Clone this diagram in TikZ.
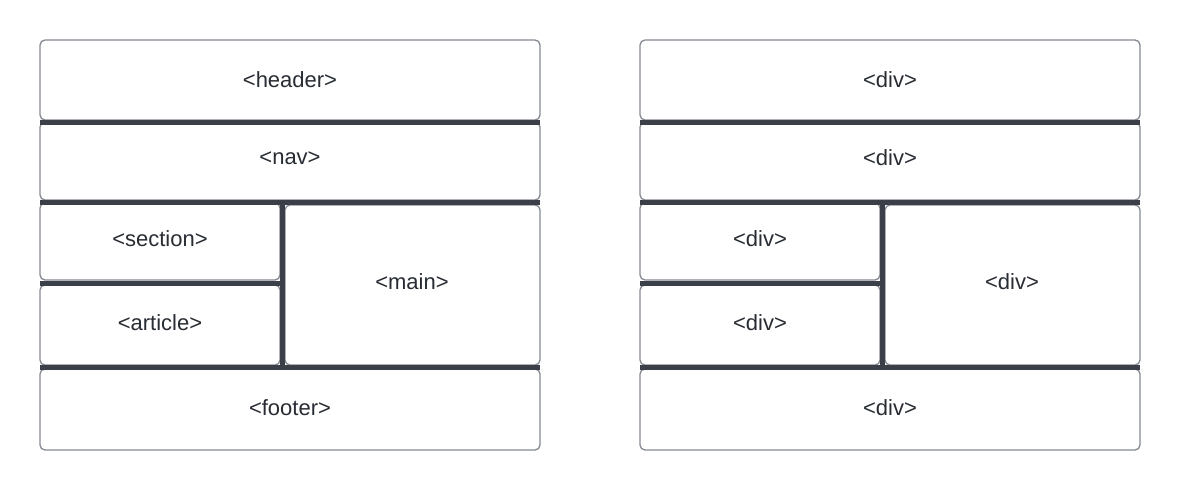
\documentclass[tikz,border=0pt]{standalone}
\usepackage{fontspec}
\setmainfont{Liberation Sans}
\begin{document}
\begin{tikzpicture}[x=1pt,y=-1pt,
  box/.style={draw=boxgray,line width=1.3pt,rounded corners=5pt,fill=white,inner sep=0pt,outer sep=0pt},
  sep/.style={draw=sepdark,line width=5pt},
  lbl/.style={text=txtdark,font=\fontsize{22}{26}\selectfont,inner sep=0pt}]
\definecolor{boxgray}{HTML}{858A92}
\definecolor{sepdark}{HTML}{3A3F48}
\definecolor{txtdark}{HTML}{282C33}
\useasboundingbox[fill=white] (0,0) rectangle (1180,490);
\foreach \ox/\p/\a/\b/\c/\d/\e/\f in {0/L/{<header>}/{<nav>}/{<section>}/{<article>}/{<main>}/{<footer>},600/R/{<div>}/{<div>}/{<div>}/{<div>}/{<div>}/{<div>}}{
  \begin{scope}[shift={(\ox,0)}]
  % boxes
  \path[box] (40,40) rectangle (540,120);
  \path[box] (40,122) rectangle (540,200);
  \path[box] (40,203) rectangle (280,280);
  \path[box] (40,285) rectangle (280,365);
  \path[box] (285,205) rectangle (540,365);
  \path[box] (40,369) rectangle (540,450);
  % labels
  \node[lbl] (\p hdr) at (290,80) {\a};
  \node[lbl] (\p nav) at (290,158) {\b};
  \node[lbl] (\p sec) at (160,239) {\c};
  \node[lbl] (\p art) at (160,323) {\d};
  \node[lbl] (\p main) at (412,282) {\e};
  \node[lbl] (\p ftr) at (290,408) {\f};
  % separators
  \coordinate (\p a1) at (40,122.5); \coordinate (\p a2) at (540,122.5);
  \coordinate (\p b1) at (40,202.5); \coordinate (\p b2) at (540,202.5);
  \coordinate (\p c1) at (282,202.5); \coordinate (\p c2) at (282,367);
  \coordinate (\p d1) at (40,283); \coordinate (\p d2) at (282,283);
  \coordinate (\p e1) at (40,367); \coordinate (\p e2) at (540,367);
  \draw[sep] (\p a1) -- (\p a2);
  \draw[sep] (\p b1) -- (\p b2);
  \draw[sep] (\p c1) -- (\p c2);
  \draw[sep] (\p d1) -- (\p d2);
  \draw[sep] (\p e1) -- (\p e2);
  \end{scope}
}
\end{tikzpicture}
\end{document}
